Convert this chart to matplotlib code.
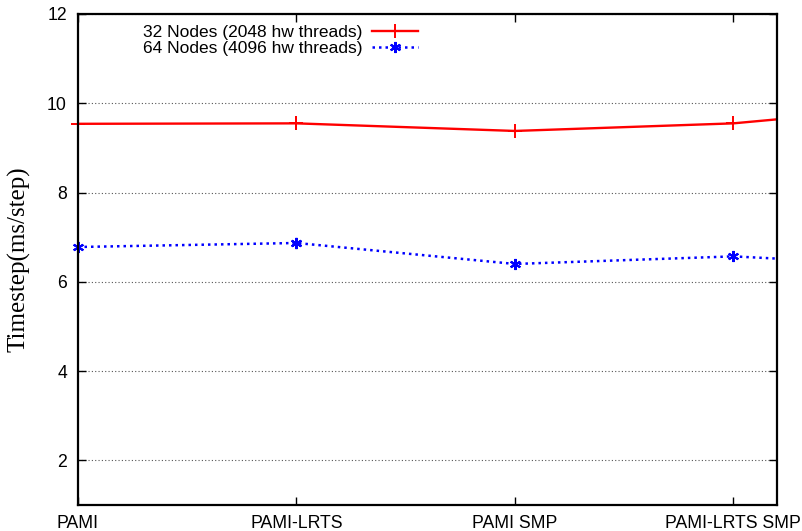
import matplotlib
matplotlib.use("Agg")
import matplotlib.pyplot as plt
import numpy as np

# categories on the x axis (a fifth run lies past the right edge and is clipped)
categories = ["PAMI", "PAMI-LRTS", "PAMI SMP", "PAMI-LRTS SMP"]
nodes32 = [9.54, 9.55, 9.38, 9.55, 10.0]
nodes64 = [6.78, 6.87, 6.40, 6.57, 6.32]
yticks = [2, 4, 6, 8, 10, 12]

plt.rcParams['font.family'] = ['Liberation Sans', 'DejaVu Sans']

fig = plt.figure(figsize=(8.02, 5.31), dpi=100)
ax = fig.add_axes([78 / 802, 26 / 531, 699 / 802, 491 / 531])

x = np.arange(len(nodes32))
n = len(categories)

# lines are clipped at the border, the point symbols are not
ax.plot(x, nodes32, color='red', lw=1.7, label='32 Nodes (2048 hw threads)',
        marker='+', ms=10, mew=1.4, markevery=[1])
ax.plot(x, nodes64, color='blue', lw=1.8, ls=(0, (1, 1.6)), marker=(6, 2, 0),
        ms=8, mew=1.5, markevery=[1], label='64 Nodes (4096 hw threads)')
ax.plot(x[:n], nodes32[:n], ls='none', color='red', marker='+', ms=10, mew=1.4,
        clip_on=False)
ax.plot(x[:n], nodes64[:n], ls='none', color='blue', marker=(6, 2, 0), ms=8,
        mew=1.5, clip_on=False)

ax.set_xlim(0, 3.2)
ax.set_ylim(1, 12)
ax.set_xticks(range(n))
ax.set_xticklabels(categories, fontsize=12.7)
ax.set_yticks(yticks)
ax.set_yticklabels([str(v) for v in yticks], fontsize=12.7)

ax.tick_params(axis='both', direction='in', length=6, width=1, top=True, right=True)
ax.tick_params(axis='x', pad=7)
ax.tick_params(axis='y', pad=8)
ax.yaxis.grid(True, ls=(0, (1, 2)), color='#555555', lw=0.8)
for s in ax.spines.values():
    s.set_linewidth(1.6)

ax.set_ylabel('Timestep(ms/step)', fontsize=18, family=['Liberation Serif', 'DejaVu Serif'],
              labelpad=12)

leg = ax.legend(loc='upper left', bbox_to_anchor=(0.07, 1.01), frameon=False,
                markerfirst=False, fontsize=12.5, handlelength=2.6,
                labelspacing=0.05, handletextpad=0.6)

fig.savefig('out.png', dpi=100)
